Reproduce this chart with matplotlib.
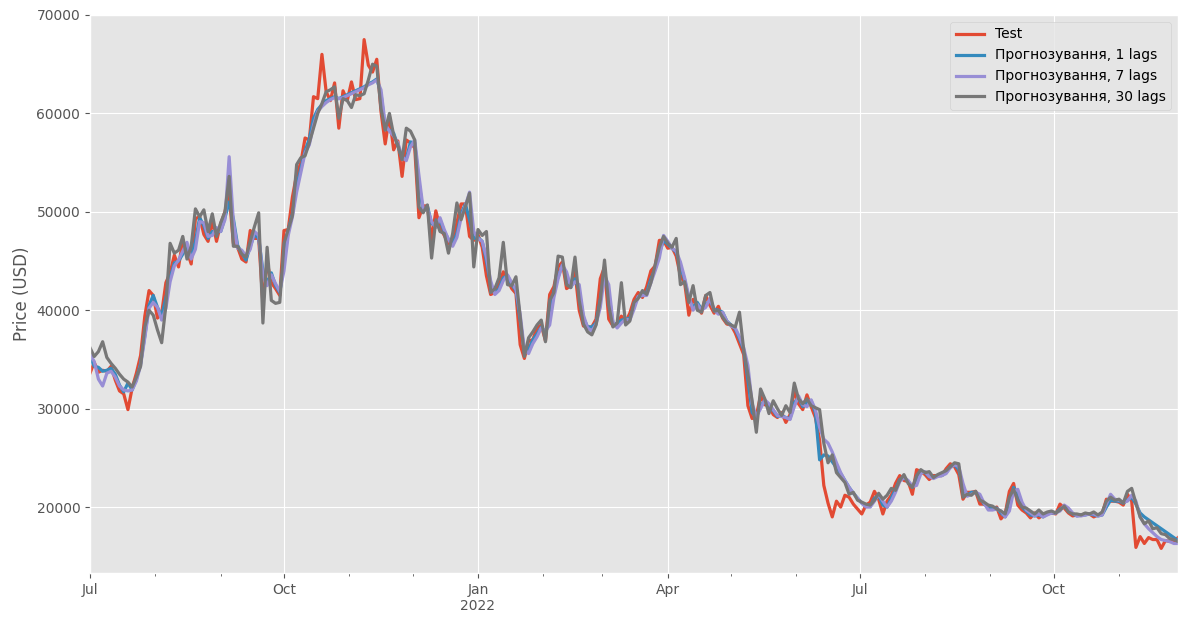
import matplotlib
matplotlib.use("Agg")
import matplotlib.pyplot as plt
import matplotlib.dates as mdates
from matplotlib.ticker import FuncFormatter
import pandas as pd

plt.style.use("ggplot")

# BTC close, sampled every 2 days from 2021-07-01
test = [
    33600, 34700, 33700, 33900, 33800, 34300, 32900, 31800, 31500, 29900, 32100, 33600, 35400, 39400, 42000, 41500,  # 2021-07
    39200, 39700, 42800, 43800, 45600, 44400, 47100, 46000, 44700, 49300, 49500, 47700, 47000, 49100, 47000,  # 2021-08
    48800, 50000, 51800, 46800, 46400, 45200, 44900, 48100, 47300, 47300, 40700, 44900, 42800, 42200, 41500,  # 2021-09
    48100, 48200, 51500, 53800, 55000, 57500, 57300, 61700, 61500, 66000, 62200, 61300, 63100, 58500, 62300, 61300,  # 2021-10
    63200, 61400, 61500, 67500, 64900, 64200, 65500, 60200, 56900, 59700, 56300, 57200, 53600, 57300, 57000,  # 2021-11
    56500, 49400, 50600, 50600, 47100, 50100, 48400, 47600, 46800, 46700, 48900, 50800, 50800, 47500, 47100,  # 2021-12
    47700, 46400, 43500, 41600, 41800, 42700, 43900, 43100, 42200, 41700, 36500, 35100, 36900, 37000, 38200, 38500,  # 2022-01
    36900, 41600, 42400, 44400, 44900, 42200, 42500, 43900, 40000, 38400, 38300, 38300, 39100, 43200,  # 2022-02
    44400, 39100, 38400, 38700, 39400, 38800, 39700, 41100, 41800, 41300, 42400, 44000, 44500, 47100, 47100,  # 2022-03
    46300, 46400, 45500, 43500, 42800, 39500, 41100, 40500, 39700, 41500, 40500, 39700, 40400, 39200, 38600,  # 2022-04
    38500, 37700, 36600, 35500, 30300, 29000, 29300, 31300, 30400, 30300, 29400, 29100, 29600, 28600, 29400, 31800,  # 2022-05
    30500, 29900, 31400, 30200, 29100, 26800, 22200, 20400, 19000, 20600, 20000, 21200, 21000, 20300, 19800,  # 2022-06
    19300, 20200, 20500, 21600, 20800, 19300, 20600, 21200, 22400, 23200, 22700, 22600, 21300, 23800, 23600,  # 2022-07
    23300, 22800, 23200, 23200, 23200, 23900, 24400, 24100, 23300, 20800, 21500, 21500, 21600, 20300, 20300, 20000,  # 2022-08
    19800, 20000, 18800, 19300, 21600, 22400, 20200, 19700, 19400, 18900, 19400, 18900, 19200, 19400, 19400,  # 2022-09
    19300, 20300, 19900, 19400, 19100, 19200, 19200, 19300, 19300, 19000, 19200, 19300, 20800, 20600, 20600,  # 2022-10
    20500, 20200, 21300, 20600, 15900, 17000, 16300, 16900, 16700, 16700, 15800, 16600, 16500, 16500, 16900,  # 2022-11
]

pred_1 = [
    35300, 34300, 34200, 33800, 33900, 34100, 33500, 32400, 31700, 32600, 31900, 33000, 34600, 37400, 40500, 41500,
    40300, 39400, 41300, 43300, 44800, 45000, 45700, 46600, 45400, 47000, 49400, 48600, 47300, 48000, 48000,
    48000, 49400, 51000, 49300, 46600, 45800, 45100, 46500, 47700, 47300, 44000, 42800, 43800, 42500, 41800,
    44800, 48100, 49800, 52600, 54400, 56200, 57400, 59500, 60400, 60900, 61300, 61500, 61700, 61500, 61700, 61900,
    62100, 62300, 62500, 62700, 63000, 63200, 63500, 62000, 58500, 58300, 58000, 56700, 55400, 55400, 57100,
    57000, 53000, 50000, 50600, 48800, 48600, 49200, 48000, 47200, 46700, 47800, 49800, 50800, 49200, 47300,
    47400, 47000, 45000, 42500, 41700, 42200, 43300, 43500, 42600, 42000, 39000, 35800, 36000, 37000, 37600, 38300,
    37700, 39200, 42000, 43400, 44600, 43500, 42300, 43200, 42000, 39200, 38300, 38300, 38700, 41100,
    43800, 41700, 38700, 38500, 39000, 39100, 39200, 40400, 41400, 41500, 41800, 43200, 44200, 45800, 47100,
    46700, 46300, 45900, 44500, 43100, 41100, 40300, 40800, 40100, 40600, 41000, 40100, 40000, 39800, 38900,
    38500, 38100, 37100, 36000, 32900, 29600, 29100, 30300, 30800, 30300, 29800, 29200, 29300, 29100, 29000, 30600,
    31100, 30200, 30600, 30800, 29600, 24800, 25300, 25200, 24600, 24000, 23400, 22700, 22000, 21400, 20900,
    20400, 20100, 20100, 20900, 21200, 20200, 20000, 20900, 21800, 22800, 23000, 22600, 22000, 22500, 23700,
    23500, 23100, 23000, 23200, 23200, 23500, 24100, 24300, 23800, 22000, 21200, 21500, 21500, 21000, 20300, 20100,
    19900, 19900, 19400, 19000, 20400, 22000, 21300, 20000, 19600, 19200, 19100, 19200, 19000, 19300, 19400,
    19400, 19800, 20100, 19700, 19300, 19100, 19200, 19200, 19300, 19200, 19100, 19200, 20000, 20700, 20600,
    20600, 20400, 20700, 21000, 20300, 19400, 19000, 18700, 18400, 18100, 17800, 17500, 17200, 16900, 16600,
]

pred_7 = [
    35500, 34800, 33000, 32300, 33600, 33800, 33200, 32300, 31900, 31800, 31900, 32800, 34400, 37200, 40200, 40800,
    40300, 39000, 40200, 42900, 44500, 45100, 46000, 46900, 45200, 46200, 49000, 48900, 47500, 47600, 48400,
    48000, 49200, 55600, 49000, 46300, 46100, 45500, 46200, 48000, 47600, 43500, 42500, 43600, 42700, 41900,
    44000, 47600, 49500, 52000, 54000, 56000, 56800, 58800, 60200, 60700, 61100, 61400, 61600, 61500, 61600, 61800,
    62000, 62200, 62400, 62600, 62900, 63100, 63400, 62400, 58900, 58200, 57700, 57000, 55600, 55200, 56600,
    57300, 53700, 50300, 50300, 49000, 48400, 49400, 48200, 47200, 46500, 47400, 49400, 50600, 52000, 48000,
    47300, 47000, 45400, 43000, 41600, 42000, 43000, 43600, 42800, 42100, 39600, 36000, 35600, 36600, 37300, 38200,
    37900, 38500, 41300, 43200, 44600, 43900, 42400, 42900, 42600, 39500, 38200, 37900, 38600, 40300,
    43500, 42600, 38800, 38200, 38700, 39100, 39000, 40100, 41400, 41500, 41500, 42800, 44000, 45300, 47600,
    47000, 46300, 46000, 44900, 43300, 41400, 40000, 40600, 40000, 40300, 41200, 40000, 39600, 39800, 38900,
    38400, 38200, 37300, 36200, 34400, 30500, 29200, 30000, 30900, 30500, 29900, 29300, 29200, 29100, 28900, 30200,
    31300, 30400, 30200, 30900, 29900, 28100, 26900, 26500, 25600, 24500, 23500, 22700, 22000, 21400, 20900,
    20400, 20000, 20000, 20600, 21300, 20600, 20000, 20600, 21500, 22600, 23000, 22700, 22100, 22200, 23400,
    23600, 23100, 22900, 23100, 23200, 23400, 24000, 24300, 24100, 22400, 21100, 21300, 21500, 21300, 20400, 19700,
    19700, 19800, 19600, 19000, 19600, 21600, 21800, 20500, 19700, 19400, 19100, 19300, 19000, 19200, 19400,
    19400, 19600, 20200, 19900, 19400, 19100, 19100, 19200, 19300, 19300, 19100, 19200, 20300, 21300, 20800,
    20700, 20500, 20600, 21200, 20600, 19000, 18300, 17800, 17400, 17000, 16700, 16600, 16500, 16300, 16300,
]

pred_30 = [
    36200, 35300, 35800, 36800, 35200, 34600, 34100, 33500, 33000, 32700, 32200, 33200, 34300, 38300, 40000, 39500,
    38000, 36700, 40500, 46800, 45800, 46100, 47500, 45200, 46500, 50300, 49500, 50200, 48000, 49800, 47500,
    48900, 50000, 53600, 46500, 46500, 45700, 45400, 47000, 48500, 49900, 38700, 46400, 41000, 40700, 40800,
    46800, 48200, 49600, 54800, 55500, 55700, 57000, 58500, 60000, 61000, 62200, 62400, 62700, 59500, 61500, 61300,
    60600, 61900, 61800, 62000, 63400, 65000, 64800, 60500, 58300, 60000, 57800, 56800, 55300, 58500, 58200,
    57300, 50500, 49900, 50700, 45300, 49200, 48000, 47800, 45800, 47800, 50900, 49200, 50500, 51900, 44400,
    48200, 47600, 48000, 41800, 42200, 43300, 46900, 42600, 42500, 43400, 39300, 35300, 37200, 37800, 38500, 39000,
    36800, 41000, 41800, 45500, 45400, 42600, 42300, 45400, 41000, 38600, 37800, 37500, 38500, 41000,
    45100, 40500, 38300, 38700, 42800, 38500, 38900, 40800, 41200, 42000, 41600, 42800, 44600, 46400, 47500,
    46800, 46400, 47300, 42600, 42900, 40800, 42500, 40000, 39800, 41500, 41800, 39900, 40000, 39300, 38700,
    38500, 38300, 39800, 36000, 33500, 30800, 27600, 32000, 31000, 29500, 30800, 30000, 29300, 30300, 29600, 32600,
    31000, 30500, 31000, 30300, 30100, 29900, 26500, 24500, 25300, 23500, 23000, 22500, 21300, 21500, 20700,
    20500, 20300, 20200, 20700, 21400, 20800, 21200, 21900, 21700, 22700, 23300, 22400, 22000, 23200, 23800,
    23500, 23600, 23000, 23300, 23500, 23700, 24100, 24500, 24400, 21000, 21300, 21200, 21600, 20700, 20500, 20200,
    20100, 19800, 19600, 19300, 21000, 21800, 20700, 20000, 19900, 19600, 19300, 19700, 19300, 19500, 19600,
    19400, 19700, 20100, 19500, 19300, 19300, 19200, 19400, 19300, 19500, 19200, 19500, 20600, 21000, 20700,
    20800, 20400, 21600, 21900, 20400, 19000, 18300, 18600, 17800, 17900, 17300, 17200, 16800, 16700, 16500,
]

dates = pd.date_range("2021-07-01", periods=len(test), freq="2D")

fig = plt.figure(figsize=(11.84, 6.17), dpi=100)
ax = fig.add_axes([0.076, 0.0713, 0.919, 0.9044])

ax.plot(dates, test, lw=2.3, label="Test")
ax.plot(dates, pred_1, lw=2.3, label="Прогнозування, 1 lags")
ax.plot(dates, pred_7, lw=2.3, label="Прогнозування, 7 lags")
ax.plot(dates, pred_30, lw=2.3, label="Прогнозування, 30 lags")

ax.set_xlim(dates[0], dates[-1])
ax.set_ylim(13300, 70000)


def month_label(x, pos):
    d = mdates.num2date(x)
    if d.month == 1:
        return d.strftime("%b") + "\n" + str(d.year)
    return d.strftime("%b")


ax.xaxis.set_major_locator(mdates.MonthLocator(bymonth=[1, 4, 7, 10]))
ax.xaxis.set_minor_locator(mdates.MonthLocator())
ax.xaxis.set_major_formatter(FuncFormatter(month_label))

ax.set_ylabel("Price (USD)")
ax.legend(loc="upper right")

fig.savefig("out.png", dpi=100)
